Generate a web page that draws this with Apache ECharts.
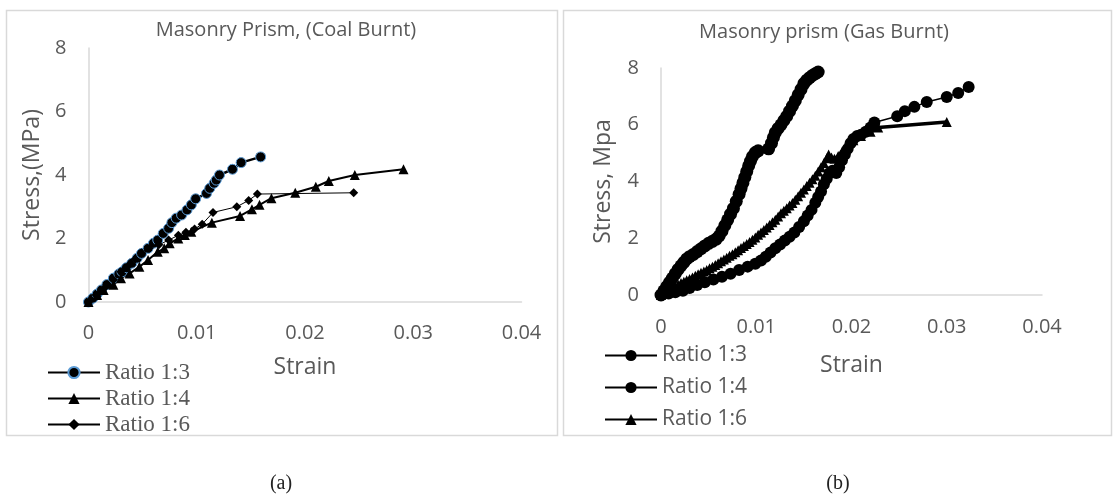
<!DOCTYPE html>
<html>
<head>
<meta charset="utf-8">
<script src="https://cdn.jsdelivr.net/npm/echarts@6/dist/echarts.min.js"></script>
<style>
  html, body { margin: 0; padding: 0; background: #fff; }
  #coal { position: absolute; left: 0; top: 0; width: 560px; height: 495px; }
  #gas { position: absolute; left: 560px; top: 0; width: 557px; height: 495px; }
</style>
</head>
<body>
<div id="coal"></div>
<div id="gas"></div>
<script>
// axis ticks
const xTicks = [0, 0.01, 0.02, 0.03, 0.04]
const yTicks = [0, 2, 4, 6, 8]
const ratioNames = ['Ratio 1:3', 'Ratio 1:4', 'Ratio 1:6']

// (a) coal burnt prisms
const coalStrain13 = [0, 0.0004, 0.0008, 0.0012, 0.0017, 0.0023, 0.0028, 0.0031, 0.0035, 0.004, 0.0045, 0.0049, 0.0055, 0.006, 0.0064, 0.0069, 0.0074, 0.0077, 0.0081, 0.0086, 0.0091, 0.0095, 0.0099, 0.0109, 0.0112, 0.0116, 0.0118, 0.0121, 0.0133, 0.0141, 0.0159]
const coalStress13 = [0, 0.12, 0.25, 0.38, 0.55, 0.75, 0.88, 0.95, 1.08, 1.22, 1.38, 1.53, 1.69, 1.85, 1.95, 2.16, 2.32, 2.5, 2.64, 2.74, 2.9, 3.06, 3.25, 3.42, 3.58, 3.74, 3.84, 4.0, 4.18, 4.39, 4.57]
const coalStrain14 = [0, 0.0008, 0.0014, 0.0023, 0.003, 0.0038, 0.0047, 0.0055, 0.0064, 0.007, 0.0075, 0.0083, 0.0089, 0.0095, 0.0114, 0.014, 0.0151, 0.0158, 0.0169, 0.0191, 0.021, 0.0222, 0.0246, 0.0291]
const coalStress14 = [0, 0.22, 0.38, 0.54, 0.75, 0.9, 1.11, 1.32, 1.58, 1.69, 1.85, 2.0, 2.11, 2.21, 2.5, 2.71, 2.92, 3.06, 3.27, 3.44, 3.63, 3.81, 4.0, 4.18]
const coalStrain16 = [0, 0.0007, 0.0015, 0.0023, 0.003, 0.0037, 0.0043, 0.0049, 0.0056, 0.0065, 0.0074, 0.0083, 0.009, 0.0098, 0.0105, 0.0115, 0.0137, 0.0148, 0.0156, 0.0245]
const coalStress16 = [0, 0.22, 0.45, 0.7, 0.95, 1.15, 1.35, 1.55, 1.69, 1.8, 1.95, 2.1, 2.2, 2.3, 2.45, 2.82, 3.0, 3.2, 3.4, 3.44]

// (b) gas burnt prisms
const gasStrain13 = [0, 0.0003, 0.0006, 0.0009, 0.0012, 0.0015, 0.0018, 0.0021, 0.0024, 0.0027, 0.003, 0.0034, 0.0038, 0.0042, 0.0046, 0.005, 0.0054, 0.0058, 0.0061, 0.0064, 0.0067, 0.007, 0.0073, 0.0076, 0.0079, 0.0082, 0.0084, 0.0086, 0.0088, 0.009, 0.0092, 0.0094, 0.0096, 0.0099, 0.0102, 0.0113, 0.0116, 0.0118, 0.012, 0.0123, 0.0126, 0.0129, 0.0132, 0.0135, 0.0138, 0.0141, 0.0144, 0.0147, 0.015, 0.0153, 0.0156, 0.0159, 0.0162, 0.0165]
const gasStress13 = [0, 0.15, 0.3, 0.45, 0.6, 0.75, 0.9, 1.03, 1.15, 1.27, 1.35, 1.43, 1.53, 1.63, 1.73, 1.82, 1.89, 1.97, 2.08, 2.25, 2.45, 2.65, 2.85, 3.05, 3.3, 3.55, 3.75, 3.95, 4.15, 4.35, 4.55, 4.72, 4.88, 5.02, 5.08, 5.15, 5.35, 5.55, 5.72, 5.87, 6.0, 6.15, 6.3, 6.48, 6.66, 6.85, 7.05, 7.25, 7.45, 7.57, 7.66, 7.74, 7.8, 7.86]
const gasStrain14 = [0, 0.0008, 0.0015, 0.0023, 0.003, 0.0038, 0.0046, 0.0055, 0.0064, 0.0073, 0.0082, 0.0091, 0.0099, 0.0105, 0.011, 0.0115, 0.012, 0.0125, 0.013, 0.0135, 0.014, 0.0145, 0.015, 0.0154, 0.0158, 0.0162, 0.0165, 0.0168, 0.0171, 0.0174, 0.0177, 0.018, 0.0184, 0.0187, 0.019, 0.0193, 0.0196, 0.0199, 0.0202, 0.0206, 0.021, 0.0215, 0.022, 0.0224, 0.0248, 0.0256, 0.0266, 0.0279, 0.03, 0.0312, 0.0323]
const gasStress14 = [0, 0.05, 0.1, 0.15, 0.25, 0.35, 0.45, 0.55, 0.64, 0.75, 0.88, 1.0, 1.1, 1.22, 1.35, 1.5, 1.65, 1.78, 1.92, 2.05, 2.2, 2.4, 2.6, 2.8, 3.0, 3.25, 3.45, 3.65, 3.9, 4.1, 4.3, 4.38, 4.3, 4.5, 4.75, 4.95, 5.15, 5.35, 5.5, 5.6, 5.65, 5.75, 5.9, 6.08, 6.3, 6.48, 6.63, 6.8, 6.98, 7.12, 7.33]
const gasStrain16 = [0, 0.0003, 0.0006, 0.0009, 0.0012, 0.0015, 0.0018, 0.0021, 0.0024, 0.0027, 0.003, 0.0033, 0.0036, 0.0039, 0.0042, 0.0045, 0.0048, 0.0051, 0.0054, 0.0057, 0.006, 0.0063, 0.0066, 0.0069, 0.0072, 0.0075, 0.0078, 0.0081, 0.0084, 0.0087, 0.009, 0.0093, 0.0096, 0.0099, 0.0102, 0.0105, 0.0108, 0.0111, 0.0114, 0.0117, 0.012, 0.0123, 0.0126, 0.0129, 0.0132, 0.0135, 0.0138, 0.0141, 0.0144, 0.0147, 0.015, 0.0153, 0.0156, 0.0159, 0.0162, 0.0165, 0.0168, 0.0171, 0.0174, 0.0176, 0.0179, 0.0182, 0.0186, 0.019, 0.0195, 0.0202, 0.021, 0.022, 0.0228, 0.03]
const gasStress16 = [0, 0.06, 0.12, 0.18, 0.24, 0.3, 0.36, 0.42, 0.47, 0.52, 0.56, 0.62, 0.68, 0.73, 0.78, 0.83, 0.88, 0.94, 1.0, 1.06, 1.12, 1.19, 1.25, 1.31, 1.38, 1.44, 1.51, 1.58, 1.66, 1.73, 1.8, 1.87, 1.95, 2.03, 2.12, 2.2, 2.29, 2.38, 2.47, 2.56, 2.65, 2.77, 2.88, 2.97, 3.06, 3.15, 3.24, 3.36, 3.48, 3.6, 3.72, 3.84, 3.96, 4.08, 4.2, 4.35, 4.5, 4.65, 4.82, 4.95, 4.85, 4.8, 4.9, 5.05, 5.2, 5.45, 5.6, 5.75, 5.9, 6.1]

const axisGray = '#d9d9d9'
const textGray = '#595959'
const sans = 'Open Sans'

function pairs (xs, ys) {
  return xs.map((x, i) => [x, ys[i]])
}

function axes (xGap, yGap, yName, xLabelMargin) {
  return {
    xAxis: {
      type: 'value',
      min: xTicks[0],
      max: xTicks[xTicks.length - 1],
      interval: xTicks[1] - xTicks[0],
      name: 'Strain',
      nameLocation: 'middle',
      nameGap: xGap,
      nameTextStyle: { fontFamily: sans, fontSize: 23, color: textGray },
      axisLine: { lineStyle: { color: axisGray, width: 1.5 } },
      axisTick: { show: false },
      splitLine: { show: false },
      axisLabel: { margin: xLabelMargin, fontFamily: sans, fontSize: 20, color: textGray }
    },
    yAxis: {
      type: 'value',
      min: yTicks[0],
      max: yTicks[yTicks.length - 1],
      interval: yTicks[1] - yTicks[0],
      name: yName,
      nameLocation: 'middle',
      nameRotate: 90,
      nameGap: yGap,
      nameTextStyle: { fontFamily: sans, fontSize: 23, color: textGray },
      axisLine: { show: true, lineStyle: { color: axisGray, width: 1.5 } },
      axisTick: { show: false },
      splitLine: { show: false },
      axisLabel: { margin: 22, fontFamily: sans, fontSize: 20, color: textGray }
    }
  }
}

function frame (box, title, tx, ty, caption, cx) {
  return [
    { type: 'rect', shape: { x: box.x, y: 10.5, width: box.width, height: 425 }, style: { fill: 'none', stroke: axisGray, lineWidth: 1.5 }, silent: true },
    { type: 'text', x: tx, y: ty, style: { text: title, fill: textGray, font: '20px "Open Sans"', align: 'center', verticalAlign: 'middle', textAlign: 'center', textVerticalAlign: 'middle' } },
    { type: 'text', x: cx, y: 484, style: { text: caption, fill: '#222', font: '20px "Liberation Serif"', align: 'center', verticalAlign: 'middle', textAlign: 'center', textVerticalAlign: 'middle' } }
  ]
}

// ---------- (a) ----------
const coal = echarts.init(document.getElementById('coal'))
coal.setOption(Object.assign({
  animation: false,
  grid: { left: 88.5, right: 38.5, top: 48, bottom: 193 },
  legend: {
    orient: 'vertical',
    left: 47,
    top: 361,
    padding: 0,
    itemWidth: 52,
    itemHeight: 14,
    itemGap: 3,
    textStyle: { fontFamily: 'Liberation Serif', fontSize: 23, color: textGray },
    data: ratioNames
  },
  graphic: frame({ x: 6.5, width: 551 }, 'Masonry Prism, (Coal Burnt)', 286, 30, '(a)', 281),
  series: [
    {
      name: ratioNames[0], type: 'line', data: pairs(coalStrain13, coalStress13),
      symbol: 'circle', symbolSize: 10,
      lineStyle: { color: '#000', width: 2.5 },
      itemStyle: { color: '#000', borderColor: '#5b9bd5', borderWidth: 1 }
    },
    {
      name: ratioNames[1], type: 'line', data: pairs(coalStrain14, coalStress14),
      symbol: 'triangle', symbolSize: 10,
      lineStyle: { color: '#000', width: 2 },
      itemStyle: { color: '#000' }
    },
    {
      name: ratioNames[2], type: 'line', data: pairs(coalStrain16, coalStress16),
      symbol: 'diamond', symbolSize: 9,
      lineStyle: { color: '#000', width: 1 },
      itemStyle: { color: '#000' }
    }
  ]
}, axes(54, 45, 'Stress,(MPa)', 21)))

// ---------- (b) ----------
const gas = echarts.init(document.getElementById('gas'))
gas.setOption(Object.assign({
  animation: false,
  grid: { left: 101, right: 75, top: 68, bottom: 200 },
  legend: {
    orient: 'vertical',
    left: 44,
    top: 345,
    padding: 0,
    itemWidth: 52,
    itemHeight: 14,
    itemGap: 11,
    textStyle: { fontFamily: sans, fontSize: 21, color: textGray },
    data: ratioNames
  },
  graphic: frame({ x: 3.5, width: 548 }, 'Masonry prism (Gas Burnt)', 264, 32, '(b)', 278),
  series: [
    {
      name: ratioNames[0], type: 'line', data: pairs(gasStrain13, gasStress13),
      symbol: 'circle', symbolSize: 13,
      lineStyle: { color: '#000', width: 3.5 },
      itemStyle: { color: '#000' }
    },
    {
      name: ratioNames[1], type: 'line', data: pairs(gasStrain14, gasStress14),
      symbol: 'circle', symbolSize: 12,
      lineStyle: { color: '#000', width: 1.5 },
      itemStyle: { color: '#000' }
    },
    {
      name: ratioNames[2], type: 'line', data: pairs(gasStrain16, gasStress16),
      symbol: 'triangle', symbolSize: 10,
      lineStyle: { color: '#000', width: 3.5 },
      itemStyle: { color: '#000' }
    }
  ]
}, axes(59, 46, 'Stress, Mpa', 22)))
</script>
</body>
</html>
